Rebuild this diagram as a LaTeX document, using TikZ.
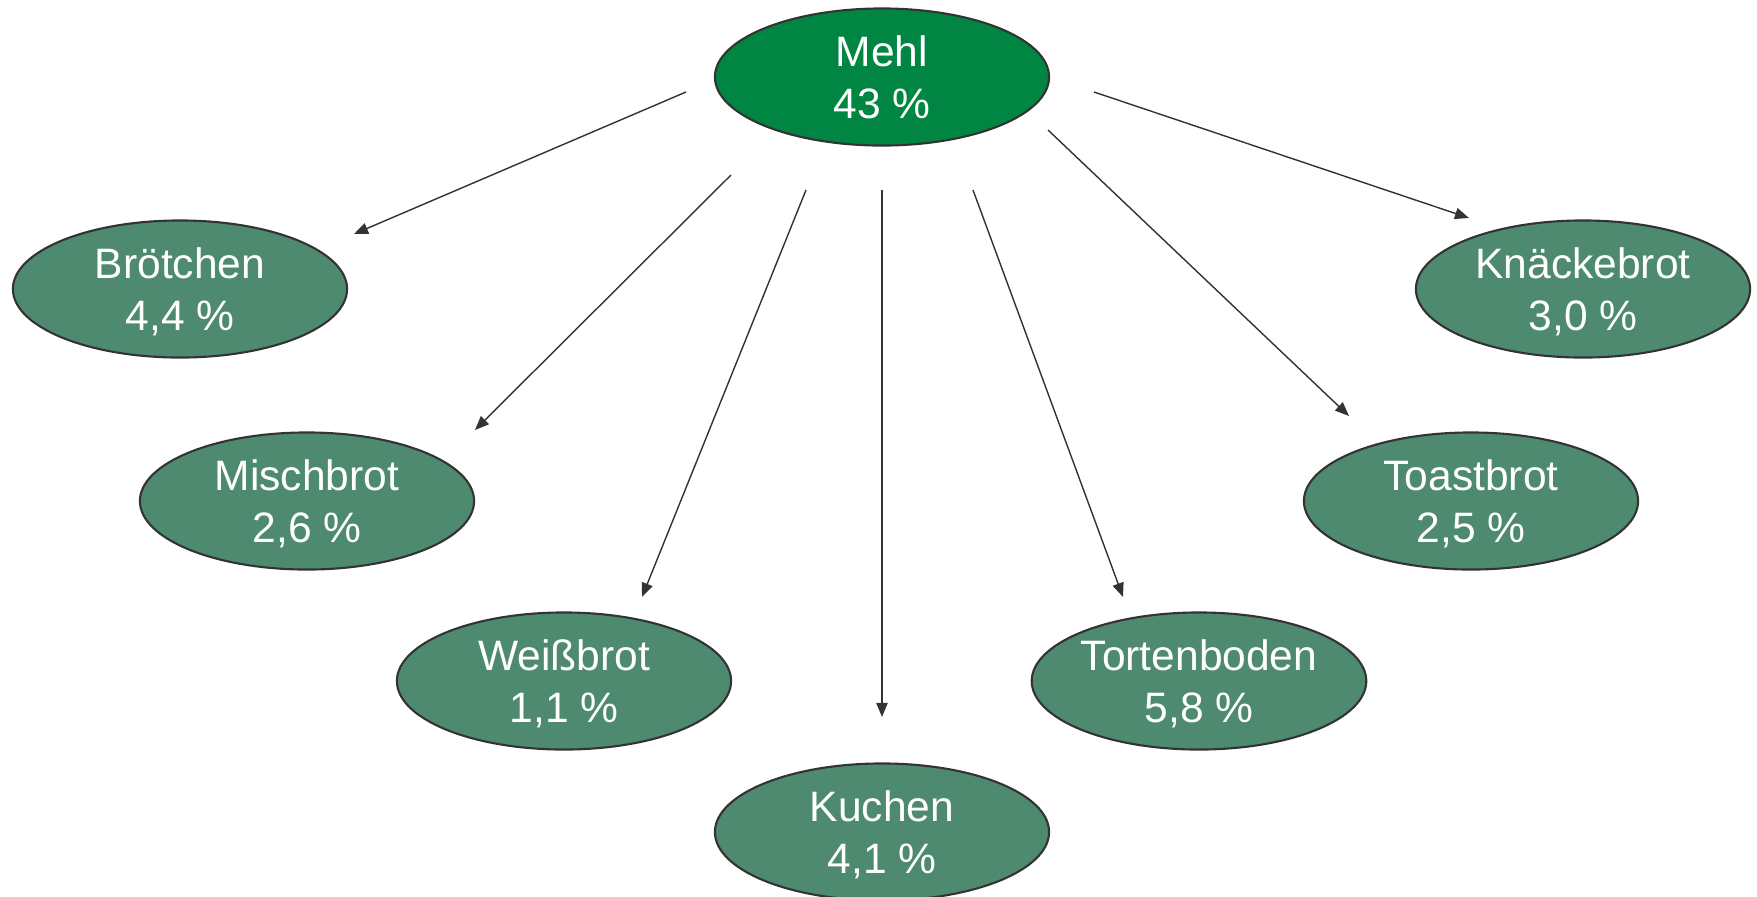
\documentclass[tikz,border=0pt]{standalone}
\usepackage{fontspec}
\setmainfont{Liberation Sans}
\usepackage{xcolor}
\usetikzlibrary{shapes.geometric,arrows.meta}
\definecolor{mehlgreen}{HTML}{008542}
\definecolor{brotgreen}{HTML}{4E8A6F}
\definecolor{linegray}{HTML}{333333}

\begin{document}
\begin{tikzpicture}[x=0.01cm,y=-0.01cm,
  produkt/.style={ellipse, draw=linegray, line width=0.6pt, fill=brotgreen, minimum width=3.34cm, minimum height=1.37cm, inner sep=0pt, text depth=0pt, align=center, text=white, font=\fontsize{12.1}{14.6}\selectfont},
  pfeil/.style={draw=linegray, line width=0.4pt, -{Triangle[length=4pt,width=3.2pt]}}]
\useasboundingbox (0,0) rectangle (1757,896);
\node[produkt, fill=mehlgreen] (Mehl) at (882,77) {Mehl\\43 \%};
\node[produkt] (Broetchen) at (180,289) {Brötchen\\4,4 \%};
\node[produkt] (Mischbrot) at (307,501) {Mischbrot\\2,6 \%};
\node[produkt] (Weissbrot) at (564,681) {Weißbrot\\1,1 \%};
\node[produkt] (Kuchen) at (882,832) {Kuchen\\4,1 \%};
\node[produkt] (Tortenboden) at (1199,681) {Tortenboden\\5,8 \%};
\node[produkt] (Toastbrot) at (1471,501) {Toastbrot\\2,5 \%};
\node[produkt] (Knaeckebrot) at (1583,289) {Knäckebrot\\3,0 \%};
% Pfeile von Mehl zu den Produkten
\coordinate (aBroetchen) at (686,92);   \coordinate (eBroetchen) at (354,234);
\coordinate (aMischbrot) at (731,175);  \coordinate (eMischbrot) at (475,430);
\coordinate (aWeissbrot) at (806,190);  \coordinate (eWeissbrot) at (642,597);
\coordinate (aKuchen) at (882,190);     \coordinate (eKuchen) at (882,717);
\coordinate (aTortenboden) at (973,190); \coordinate (eTortenboden) at (1123,597);
\coordinate (aToastbrot) at (1048,130); \coordinate (eToastbrot) at (1349,416);
\coordinate (aKnaeckebrot) at (1094,92); \coordinate (eKnaeckebrot) at (1469,218);
\foreach \p in {Broetchen,Mischbrot,Weissbrot,Kuchen,Tortenboden,Toastbrot,Knaeckebrot}\draw[pfeil] (a\p) -- (e\p);
\end{tikzpicture}
\end{document}
